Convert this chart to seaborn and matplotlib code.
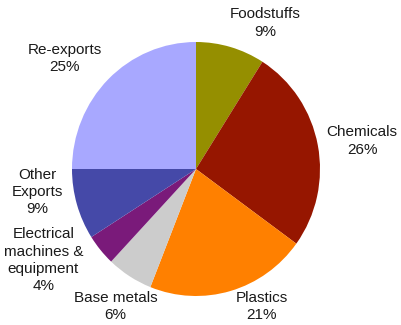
import matplotlib
matplotlib.use("Agg")
import matplotlib.pyplot as plt
import seaborn as sns

# Export composition (share of total, %)
categories = ["Foodstuffs", "Chemicals", "Plastics", "Base metals",
              "Electrical\nmachines &\nequipment", "Other\nExports", "Re-exports"]
shares = [9, 26, 21, 6, 4, 9, 25]
colors = ["#958F00", "#961600", "#FF8000", "#CCCCCC", "#7A1A7A", "#4549A8", "#A8A8FF"]

# Label anchor points in pie units (centre at 0,0; radius 1)
label_pos = [(0.556, 1.15), (1.34, 0.22), (0.53, -1.08), (-0.65, -1.08),
             (-1.23, -0.72), (-1.28, -0.18), (-1.06, 0.87)]

sns.set_theme(style="white")
plt.rcParams["font.family"] = ["Liberation Sans", "DejaVu Sans"]

W, H = 401, 325
fig = plt.figure(figsize=(W / 100, H / 100), dpi=100)
fig.patch.set_facecolor("white")

cx, cy = 196, 169
rx, ry = 124, 127
ax = fig.add_axes([(cx - rx) / W, (H - cy - ry) / H, 2 * rx / W, 2 * ry / H])

ax.pie(shares, colors=colors, startangle=90, counterclock=False,
       radius=1, wedgeprops=dict(linewidth=0))
ax.set_aspect("auto")
ax.set_xlim(-1, 1)
ax.set_ylim(-1, 1)
ax.axis("off")

for name, val, (x, y) in zip(categories, shares, label_pos):
    ax.text(x, y, f"{name}\n{val}%", ha="center", va="center",
            fontsize=11, color="#1a1a1a", linespacing=1.3, clip_on=False)

fig.savefig("out.png", dpi=100, facecolor="white")
